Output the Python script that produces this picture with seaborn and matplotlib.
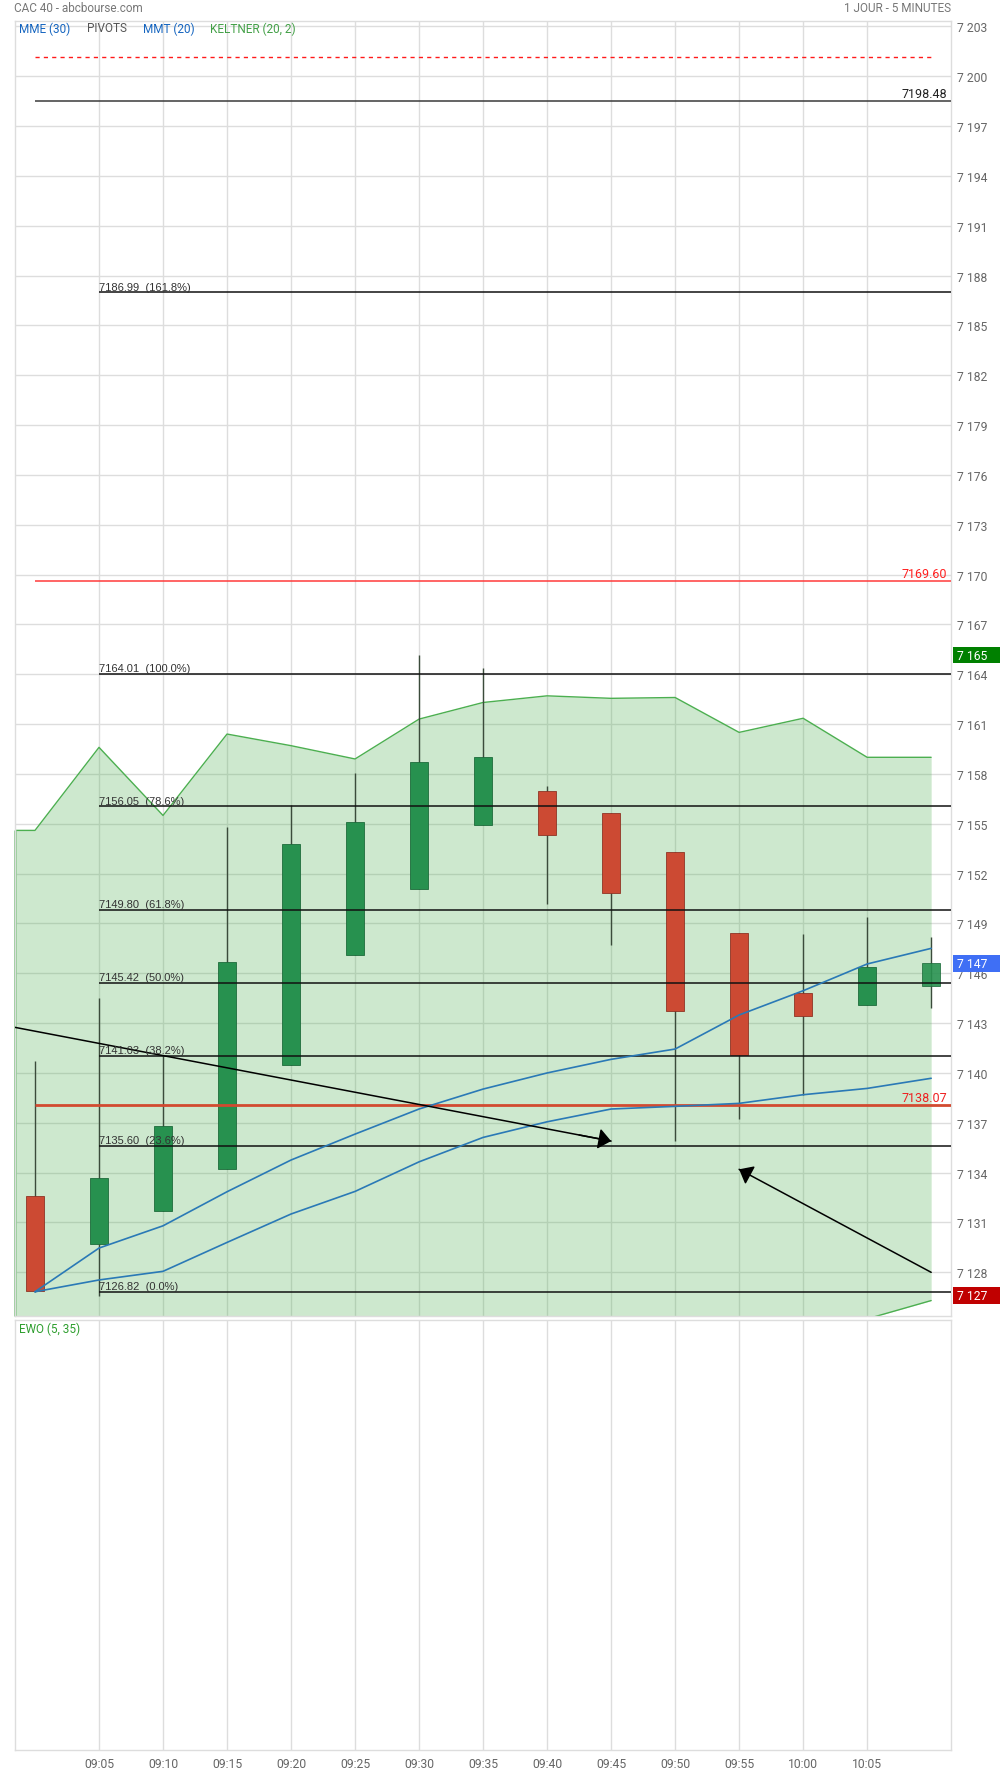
import numpy as np
import pandas as pd
import seaborn as sns
import matplotlib.pyplot as plt
from matplotlib.patches import Rectangle
from matplotlib.ticker import FuncFormatter

# valeurs (CAC 40, 5 minutes)
times = ["09:00", "09:05", "09:10", "09:15", "09:20", "09:25", "09:30", "09:35",
         "09:40", "09:45", "09:50", "09:55", "10:00", "10:05", "10:10"]
opens = [7132.6, 7129.7, 7131.7, 7134.2, 7140.5, 7147.1, 7151.1, 7154.9,
         7156.95, 7155.65, 7153.3, 7148.45, 7144.8, 7144.1, 7145.25]
highs = [7140.7, 7144.5, 7141.0, 7154.8, 7156.1, 7158.05, 7165.15, 7164.4,
         7157.3, 7155.65, 7153.3, 7148.45, 7148.35, 7149.4, 7148.2]
lows = [7126.8, 7126.6, 7131.7, 7134.2, 7140.5, 7147.1, 7151.1, 7154.9,
        7150.2, 7147.7, 7135.9, 7137.2, 7138.7, 7144.1, 7143.9]
closes = [7126.85, 7133.7, 7136.8, 7146.7, 7153.8, 7155.1, 7158.7, 7159.0,
          7154.35, 7150.85, 7143.7, 7141.1, 7143.45, 7146.35, 7146.6]

mmt_20 = [7126.83, 7129.46, 7130.8, 7132.85, 7134.76, 7136.32, 7137.83, 7139.03,
          7140.0, 7140.82, 7141.44, 7143.49, 7144.95, 7146.56, 7147.5]
mme_30 = [7126.83, 7127.54, 7128.06, 7129.8, 7131.51, 7132.87, 7134.65, 7136.12,
          7137.06, 7137.83, 7137.99, 7138.17, 7138.69, 7139.07, 7139.68]

keltner_times = ["08:55"] + times
keltner_upper = [7154.6, 7154.6, 7159.6, 7155.5, 7160.4, 7159.7, 7158.9, 7161.3,
                 7162.3, 7162.7, 7162.55, 7162.6, 7160.5, 7161.35, 7159.0, 7159.0]
keltner_lower = [7121.5, 7121.5, 7122.8, 7121.9, 7123.5, 7123.2, 7122.6, 7123.4,
                 7123.9, 7124.1, 7124.0, 7124.2, 7124.0, 7124.5, 7125.2, 7126.3]

pivot_dashed = 7201.15
pivot_levels = [7198.48, 7169.60, 7138.07]
pivot_colors = ["#3a3a3a", "#ff3b3b", "#d24a30"]
pivot_label_colors = ["#222222", "#ff2020", "#ee2020"]
pivot_widths = [1.1, 1.1, 2.0]

fib_levels = [7186.99, 7164.01, 7156.05, 7149.80, 7145.42, 7141.03, 7135.60, 7126.82]
fib_pcts = ["161.8%", "100.0%", "78.6%", "61.8%", "50.0%", "38.2%", "23.6%", "0.0%"]
fib_start = "09:05"

trend_from_time = ["08:55", "10:10"]
trend_from_val = [7143.25, 7128.0]
trend_to_time = ["09:45", "09:55"]
trend_to_val = [7135.9, 7134.2]

tick_times = times[1:-1]
ytick_vals = list(range(7128, 7204, 3))


def pos(t):
    h, m = t.split(":")
    return (int(h) * 60 + int(m) - 540) / 5


def px(x, y):
    return x / 1000, 1 - y / 1774


x = np.array([pos(t) for t in times])
xk = np.array([pos(t) for t in keltner_times])
o, h, l, c = map(np.array, (opens, highs, lows, closes))

sns.set_theme(style="white")
plt.rcParams["font.family"] = ["Roboto", "DejaVu Sans"]

fig = plt.figure(figsize=(10, 17.74), dpi=100)
ax = fig.add_axes([0.0147, 0.2576, 0.9363, 0.7300])
ax2 = fig.add_axes([0.0147, 0.01297, 0.9363, 0.2424])

XMIN, XMAX = -0.317, 14.31
YMIN, YMAX = 7125.37, 7203.32
grid_c = "#dddddd"

for a in (ax, ax2):
    a.set_xlim(XMIN, XMAX)
    a.set_xticks([pos(t) for t in tick_times])
    a.grid(axis="x", color=grid_c, lw=1)
    a.set_axisbelow(True)
    for s in a.spines.values():
        s.set_color(grid_c)
        s.set_linewidth(1)
    a.tick_params(length=0)

# main panel
ax.set_ylim(YMIN, YMAX)
ax.set_yticks(ytick_vals)
ax.yaxis.tick_right()
ax.yaxis.set_major_formatter(FuncFormatter(lambda v, p: f"{int(v):,}".replace(",", " ")))
ax.tick_params(axis="y", labelsize=8.7, labelcolor="#666666", pad=4)
ax.tick_params(axis="x", labelbottom=False)
ax.grid(axis="y", color=grid_c, lw=1)

# keltner
ax.fill_between(xk, keltner_lower, keltner_upper, color="#4caf50", alpha=0.28,
                lw=0, zorder=1)
kdf = pd.DataFrame({"pos": np.concatenate([xk, xk]),
                    "val": keltner_upper + keltner_lower,
                    "band": ["haut"] * len(xk) + ["bas"] * len(xk)})
sns.lineplot(data=kdf, x="pos", y="val", hue="band",
             palette={"haut": "#4caf50", "bas": "#4caf50"},
             lw=1, legend=False, ax=ax, zorder=2)
# edge of the band where it meets the panel border
ax.vlines(XMIN, YMIN, keltner_upper[0], colors="#8cc98e", lw=2, zorder=2, clip_on=False)

# candles
up = c >= o
body_col = np.where(up, "#27914f", "#cc4a33")
edge_col = np.where(up, "#1d6b3b", "#8e3424")
ax.vlines(x, l, h, colors="#3b4b3b", lw=1, zorder=3)
bars = ax.bar(x, np.abs(c - o), bottom=np.minimum(o, c), width=0.29,
              color=body_col, edgecolor=edge_col, lw=0.6, zorder=4)
bars[-1].set_alpha(0.9)

# moving averages
mdf = pd.DataFrame({"pos": np.concatenate([x, x]),
                    "val": mmt_20 + mme_30,
                    "serie": ["MMT (20)"] * len(x) + ["MME (30)"] * len(x)})
sns.lineplot(data=mdf, x="pos", y="val", hue="serie",
             palette={"MMT (20)": "#2a79b6", "MME (30)": "#2a79b6"},
             lw=1.2, legend=False, ax=ax, zorder=6)
ax.set_xlabel("")
ax.set_ylabel("")

# pivots
ax.hlines(pivot_dashed, x[0], x[-1], colors="#ff1a1a", linestyles=(0, (3, 3)),
          lw=1, zorder=5)
for v, col, lcol, w in zip(pivot_levels, pivot_colors, pivot_label_colors, pivot_widths):
    ax.hlines(v, x[0], XMAX, colors=col, lw=w, zorder=5)
    ax.annotate(f"{v:.2f}", xy=(XMAX, v), xytext=(-3, 1), textcoords="offset points",
                ha="right", va="bottom", fontsize=9, color=lcol, zorder=7)

# fibonacci
xf = pos(fib_start)
for v, p in zip(fib_levels, fib_pcts):
    ax.hlines(v, xf, XMAX, colors="#111111", lw=1.1, zorder=5)
    ax.annotate(f"{v:.2f}  ({p})", xy=(xf, v), xytext=(0, 0.5), textcoords="offset points",
                ha="left", va="bottom", fontsize=8, color="#333333",
                family=["Liberation Sans", "DejaVu Sans"], zorder=7)

# trend arrows
for t0, v0, t1, v1 in zip(trend_from_time, trend_from_val, trend_to_time, trend_to_val):
    x0, x1 = pos(t0), pos(t1)
    ax.plot([x0, x1], [v0, v1], color="black", lw=1.1, zorder=6)
    ax.annotate("", xy=(x1, v1), xytext=(x1 - 0.05 * (x1 - x0), v1 - 0.05 * (v1 - v0)),
                arrowprops=dict(arrowstyle="-|>,head_length=0.55,head_width=0.45",
                                mutation_scale=14, color="black", lw=1.1,
                                shrinkA=0, shrinkB=0), zorder=7)

# price badges on the right axis
badges = [(max(highs), "#008000"), (closes[-1], "#3f6ff5"), (min(lows), "#c00000")]
trans = ax.get_yaxis_transform()
for v, col in badges:
    ax.add_patch(Rectangle((1.002, v - 0.5), 0.07, 1.0, transform=trans,
                           facecolor=col, edgecolor="none", clip_on=False, zorder=10))
    ax.text(1.0065, v, f"{round(v):,}".replace(",", " "), transform=trans,
            ha="left", va="center", fontsize=8.7, color="white", zorder=11)

# EWO panel
ax2.set_yticks([])
ax2.set_xticklabels(tick_times)
ax2.tick_params(axis="x", labelsize=8.7, labelcolor="#666666", pad=5)

# headers and legends
fig.text(*px(14, 8.5), "CAC 40 - abcbourse.com", fontsize=8.5, color="#777777", va="center")
fig.text(*px(951, 8.5), "1 JOUR - 5 MINUTES", fontsize=8.5, color="#777777",
         va="center", ha="right")
for lx, txt, col in [(19, "MME (30)", "#1565c0"), (87, "PIVOTS", "#555555"),
                     (143, "MMT (20)", "#1565c0"), (210, "KELTNER (20, 2)", "#43a047")]:
    fig.text(*px(lx, 29), txt, fontsize=8.5, color=col, va="center")
fig.text(*px(19, 1329), "EWO (5, 35)", fontsize=8.5, color="#2e9e2e", va="center")

fig.savefig("out.png", dpi=100)
